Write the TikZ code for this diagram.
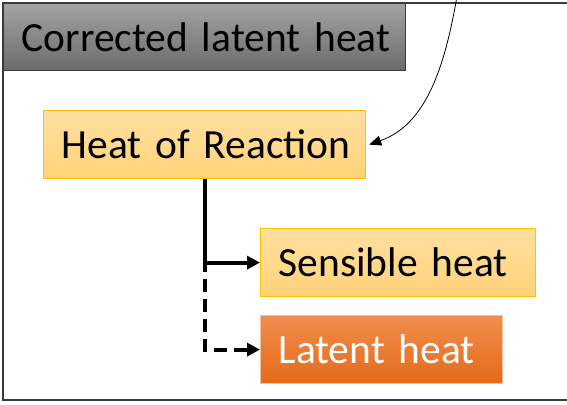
\documentclass[tikz,border=0pt]{standalone}
\usepackage{fontspec}
\setmainfont{Carlito}
\usetikzlibrary{arrows.meta}
\newcommand\myboxfont{\fontsize{41.5}{46}\selectfont\spaceskip=0.22em\relax}
\definecolor{grayTop}{HTML}{A3A3A3}
\definecolor{grayBot}{HTML}{6B6B6B}
\definecolor{grayLine}{HTML}{3A3A3A}
\definecolor{yelTop}{HTML}{FFE0A0}
\definecolor{yelBot}{HTML}{FFD278}
\definecolor{yelLine}{HTML}{FFC000}
\definecolor{orTop}{HTML}{F18D4F}
\definecolor{orBot}{HTML}{E56A17}
\definecolor{orLine}{HTML}{F6C3A0}
\begin{document}
\begin{tikzpicture}[x=1pt,y=-1pt,
  boxbase/.style={anchor=north west, inner xsep=18pt, inner ysep=0pt, align=left,
    font=\myboxfont, line width=1.2pt},
  graybox/.style={boxbase, top color=grayTop, bottom color=grayBot, draw=grayLine, text=black},
  yelbox/.style={boxbase, top color=yelTop, bottom color=yelBot, draw=yelLine, text=black},
  orbox/.style={boxbase, top color=orTop, bottom color=orBot, draw=orLine, text=white},
  conn/.style={line width=4pt, -{Triangle[length=13pt,width=13pt]}},
  dashconn/.style={conn, dash pattern=on 13pt off 7pt},
  thinarrow/.style={line width=0.8pt, -{Triangle[length=12pt,width=10pt]}},
  framestyle/.style={draw=grayLine, line width=1.3pt}]
\useasboundingbox (0,0) rectangle (567,404);
\clip (0,0) rectangle (567,404);
\fill[white] (0,0) rectangle (567,404);
\draw[framestyle] (580,3) -- (3,3) -- (3,400) -- (580,400);
\node[graybox, text width=366pt, minimum height=67pt] (clh) at (3,3) {\mbox{Corrected latent heat}};
\node[yelbox, text width=286pt, minimum height=68pt] (hor) at (43,110) {\mbox{Heat of Reaction}};
\node[yelbox, text width=239pt, minimum height=68pt] (sens) at (260,228) {\mbox{Sensible heat}};
\node[orbox, text width=206pt, minimum height=68pt] (lat) at (260,315) {\mbox{Latent heat}};
\coordinate (src) at (458,-10);
\draw[dashconn] (hor.south) |- (lat.west);
\draw[conn] (hor.south) |- (sens.west);
\draw[thinarrow] (src) .. controls (445,70) and (425,125) .. ([xshift=3pt]hor.east);
\end{tikzpicture}
\end{document}
